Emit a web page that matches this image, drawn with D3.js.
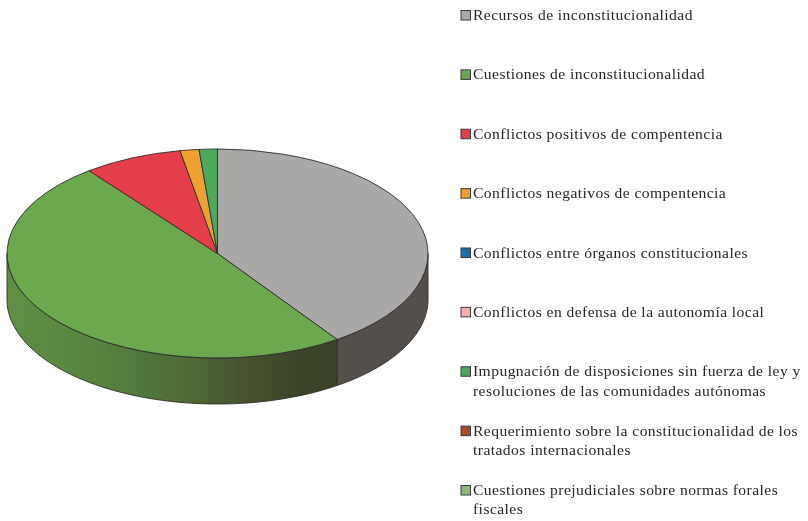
<!DOCTYPE html>
<html lang="es"><head><meta charset="utf-8">
<script src="https://cdn.jsdelivr.net/npm/d3@7/dist/d3.min.js"></script>
<style>html,body{margin:0;padding:0;background:#fff}svg{display:block}
text{font-family:"Liberation Serif",serif;font-size:15.6px;fill:#262626;letter-spacing:.43px}</style>
</head><body><svg id="c" width="808" height="521"></svg>
<script>
const categories=[
 ["Recursos de inconstitucionalidad"],
 ["Cuestiones de inconstitucionalidad"],
 ["Conflictos positivos de compentencia"],
 ["Conflictos negativos de compentencia"],
 ["Conflictos entre órganos constitucionales"],
 ["Conflictos en defensa de la autonomía local"],
 ["Impugnación de disposiciones sin fuerza de ley y","resoluciones de las comunidades autónomas"],
 ["Requerimiento sobre la constitucionalidad de los","tratados internacionales"],
 ["Cuestiones prejudiciales sobre normas forales","fiscales"]];
const seriesValues=[40.4,49.2,7.6,1.45,0,0,1.4,0,0];
const colors=["#aaa9a7","#6ca84e","#e53e48","#f0a032","#1f6fae","#f6abae","#4fa95c","#a84b2b","#93b67c"];
const sideColors=["#55504b","url(#sideGreen)"];
const sideStops=[[0,"#5f8f42"],[.16,"#5a8a40"],[.31,"#56803f"],[.4,"#4f773c"],[.55,"#4f6a36"],[.7,"#47532f"],[.88,"#3a4527"],[1,"#3a4527"]];

const svg=d3.select("#c");
const cx=217.5,cy=253.5,rx=210.5,ry=104.5,depth=46;
const defs=svg.append("defs");
const g=defs.append("linearGradient").attr("id","sideGreen").attr("gradientUnits","userSpaceOnUse")
 .attr("x1",cx-rx).attr("x2",339).attr("y1",0).attr("y2",0);
g.selectAll("stop").data(sideStops).join("stop").attr("offset",d=>d[0]).attr("stop-color",d=>d[1]);
defs.append("filter").attr("id","soft").append("feGaussianBlur").attr("stdDeviation",.45);

const arcs=d3.pie().sort(null).value(d=>d)(seriesValues);
const root=svg.append("g").attr("filter","url(#soft)");
const ex=a=>cx+rx*Math.sin(a), ey=a=>cy-ry*Math.cos(a);
const wall=d3.area().x(ex).y0(ey).y1(a=>ey(a)+depth);
const vis=arcs.map((d,i)=>({i,s:Math.max(d.startAngle,Math.PI/2),e:Math.min(d.endAngle,Math.PI*1.5)}))
 .filter(d=>d.e>d.s);
root.selectAll("path.side").data(vis).join("path").attr("class","side")
 .attr("d",d=>{const n=80,ang=d3.range(n+1).map(k=>d.s+(d.e-d.s)*k/n);return wall(ang)+"Z";})
 .attr("fill",d=>sideColors[d.i]).attr("stroke","#2e2e2a").attr("stroke-width",.9);
const arc=d3.arc().innerRadius(0).outerRadius(rx);
root.append("g").attr("transform",`translate(${cx},${cy}) scale(1,${ry/rx})`)
 .selectAll("path").data(arcs.filter(d=>d.value>0)).join("path")
 .attr("d",arc).attr("fill",d=>colors[d.index])
 .attr("stroke","#2e2e2a").attr("stroke-width",.9).attr("vector-effect","non-scaling-stroke");

const rowY=d3.scalePoint().domain(d3.range(categories.length)).range([15.5,490.5]);
const rows=root.selectAll("g.row").data(categories).join("g").attr("class","row")
 .attr("transform",(d,i)=>`translate(461,${rowY(i)})`);
rows.append("rect").attr("x",0).attr("y",-5).attr("width",9.5).attr("height",9.5)
 .attr("fill",(d,i)=>colors[i]).attr("stroke","#3a3a3a").attr("stroke-width",1);
rows.selectAll("text").data(d=>d).join("text").attr("x",12).attr("y",(d,i)=>4.5+i*19.3).text(d=>d);
</script></body></html>
